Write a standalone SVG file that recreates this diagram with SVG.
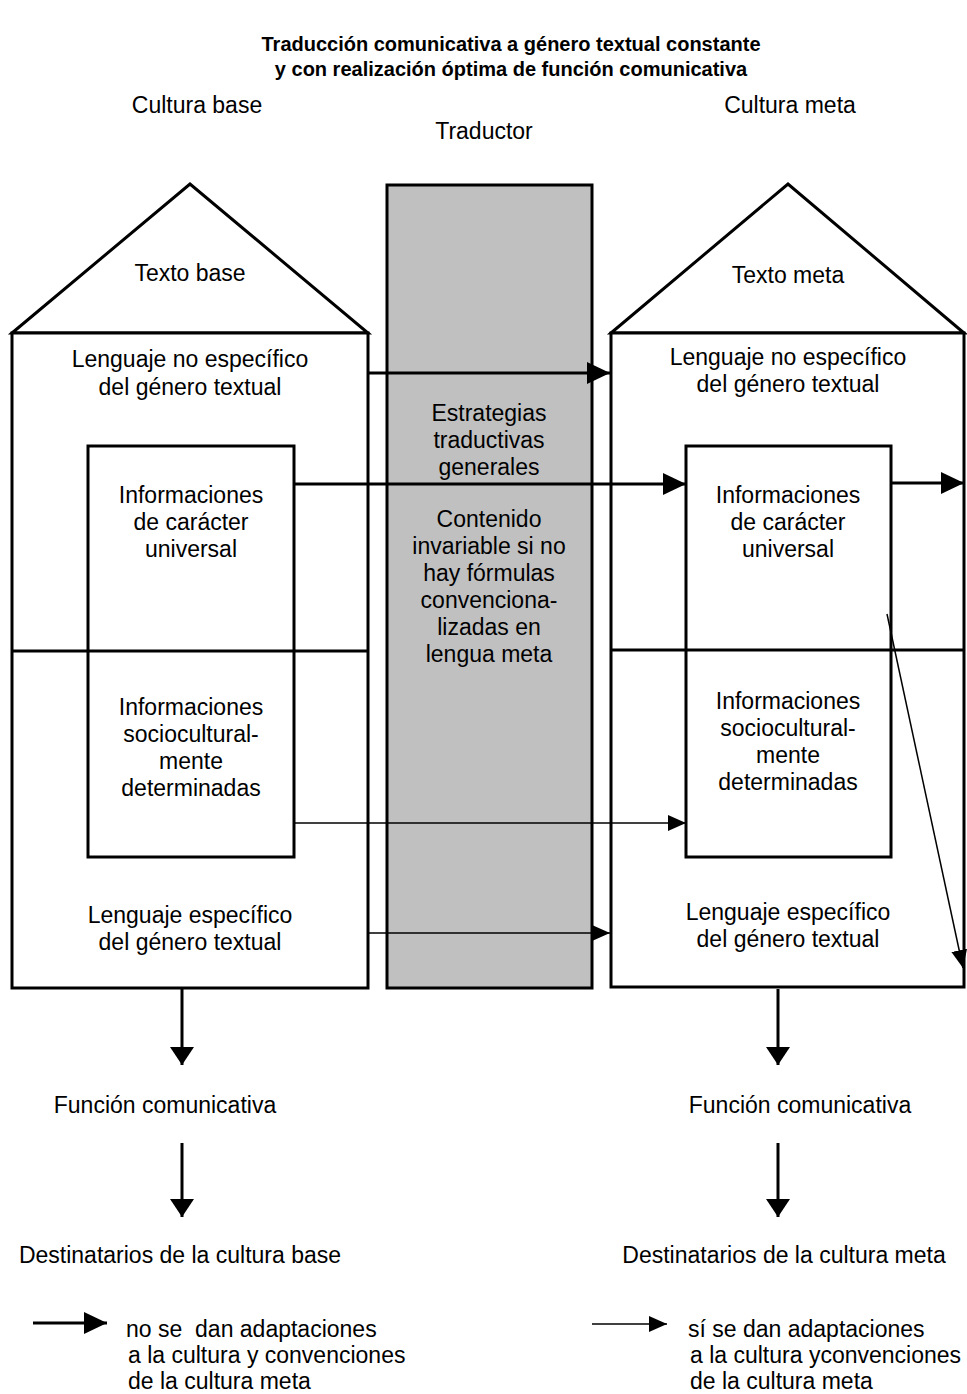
<svg xmlns="http://www.w3.org/2000/svg" width="967" height="1394" viewBox="0 0 967 1394">
<defs>
<style>
text{font-family:"Liberation Sans",Arial,sans-serif;font-size:23px;fill:#000;text-anchor:middle}
.t{font-weight:bold;font-size:20px}
.l{text-anchor:start}
.sh{fill:#fff;stroke:#000;stroke-width:3}
.thick{stroke:#000;stroke-width:3;fill:none}
.thin{stroke:#000;stroke-width:1.5;fill:none}
</style>
<marker id="ahB" viewBox="0 0 23 22" refX="23" refY="11" markerWidth="23" markerHeight="22" orient="auto" markerUnits="userSpaceOnUse"><path d="M0,0 L23,11 L0,22 z" fill="#000"/></marker>
<marker id="ahV" viewBox="0 0 18 24" refX="18" refY="12" markerWidth="18" markerHeight="24" orient="auto" markerUnits="userSpaceOnUse"><path d="M0,0 L18,12 L0,24 z" fill="#000"/></marker>
<marker id="ahS" viewBox="0 0 18 16" refX="18" refY="8" markerWidth="18" markerHeight="16" orient="auto" markerUnits="userSpaceOnUse"><path d="M0,0 L18,8 L0,16 z" fill="#000"/></marker>
</defs>
<rect width="967" height="1394" fill="#fff"/>
<g id="title">
<text class="t" x="511" y="51">Traducción comunicativa a género textual constante</text>
<text class="t" x="511" y="76">y con realización óptima de función comunicativa</text>
</g>
<g id="labels">
<text x="197" y="113">Cultura base</text>
<text x="790" y="113">Cultura meta</text>
<text x="484" y="139">Traductor</text>
</g>
<g id="house-base">
<polygon class="sh" points="12,333 190,184 368,333"/>
<rect class="sh" x="12" y="333" width="356" height="655"/>
<line class="thick" x1="12" y1="651" x2="368" y2="651"/>
<rect x="88" y="446" width="206" height="411" fill="none" stroke="#000" stroke-width="3"/>
<text x="190" y="281">Texto base</text>
<text x="190" y="367">Lenguaje no específico</text>
<text x="190" y="395">del género textual</text>
<text x="191" y="503">Informaciones</text>
<text x="191" y="530">de carácter</text>
<text x="191" y="557">universal</text>
<text x="191" y="715">Informaciones</text>
<text x="191" y="742">sociocultural-</text>
<text x="191" y="769">mente</text>
<text x="191" y="796">determinadas</text>
<text x="190" y="923">Lenguaje específico</text>
<text x="190" y="950">del género textual</text>
</g>
<g id="traductor">
<rect x="387" y="185" width="205" height="803" fill="#c0c0c0" stroke="#000" stroke-width="3"/>
<text x="489" y="421">Estrategias</text>
<text x="489" y="448">traductivas</text>
<text x="489" y="475">generales</text>
<text x="489" y="527">Contenido</text>
<text x="489" y="554">invariable si no</text>
<text x="489" y="581">hay fórmulas</text>
<text x="489" y="608">convenciona-</text>
<text x="489" y="635">lizadas en</text>
<text x="489" y="662">lengua meta</text>
</g>
<g id="house-meta">
<polygon class="sh" points="611,333 788,184 964,333"/>
<rect class="sh" x="611" y="333" width="353" height="654"/>
<line class="thick" x1="611" y1="650" x2="964" y2="650"/>
<rect x="686" y="446" width="205" height="411" fill="none" stroke="#000" stroke-width="3"/>
<text x="788" y="283">Texto meta</text>
<text x="788" y="365">Lenguaje no específico</text>
<text x="788" y="392">del género textual</text>
<text x="788" y="503">Informaciones</text>
<text x="788" y="530">de carácter</text>
<text x="788" y="557">universal</text>
<text x="788" y="709">Informaciones</text>
<text x="788" y="736">sociocultural-</text>
<text x="788" y="763">mente</text>
<text x="788" y="790">determinadas</text>
<text x="788" y="920">Lenguaje específico</text>
<text x="788" y="947">del género textual</text>
</g>
<g id="connectors">
<line class="thick" x1="368" y1="373" x2="610" y2="373" marker-end="url(#ahB)"/>
<line class="thick" x1="294" y1="484" x2="686" y2="484" marker-end="url(#ahB)"/>
<line class="thick" x1="891" y1="483" x2="964" y2="483" marker-end="url(#ahB)"/>
<line class="thin" x1="294" y1="823" x2="686" y2="823" marker-end="url(#ahS)"/>
<line class="thin" x1="368" y1="933" x2="610" y2="933" marker-end="url(#ahS)"/>
<line class="thin" x1="887" y1="614" x2="963" y2="968" marker-end="url(#ahS)"/>
<line class="thick" x1="182" y1="989" x2="182" y2="1065" marker-end="url(#ahV)"/>
<line class="thick" x1="778" y1="989" x2="778" y2="1065" marker-end="url(#ahV)"/>
<line class="thick" x1="182" y1="1143" x2="182" y2="1217" marker-end="url(#ahV)"/>
<line class="thick" x1="778" y1="1143" x2="778" y2="1217" marker-end="url(#ahV)"/>
</g>
<g id="results">
<text x="165" y="1113">Función comunicativa</text>
<text x="800" y="1113">Función comunicativa</text>
<text x="180" y="1263">Destinatarios de la cultura base</text>
<text x="784" y="1263">Destinatarios de la cultura meta</text>
</g>
<g id="legend">
<line class="thick" x1="33" y1="1323" x2="107" y2="1323" marker-end="url(#ahB)"/>
<text class="l" x="126" y="1337" xml:space="preserve">no se  dan adaptaciones</text>
<text class="l" x="128" y="1363">a la cultura y convenciones</text>
<text class="l" x="128" y="1389">de la cultura meta</text>
<line class="thin" x1="592" y1="1324" x2="667" y2="1324" marker-end="url(#ahS)"/>
<text class="l" x="688" y="1337">sí se dan adaptaciones</text>
<text class="l" x="690" y="1363">a la cultura yconvenciones</text>
<text class="l" x="690" y="1389">de la cultura meta</text>
</g>
</svg>
